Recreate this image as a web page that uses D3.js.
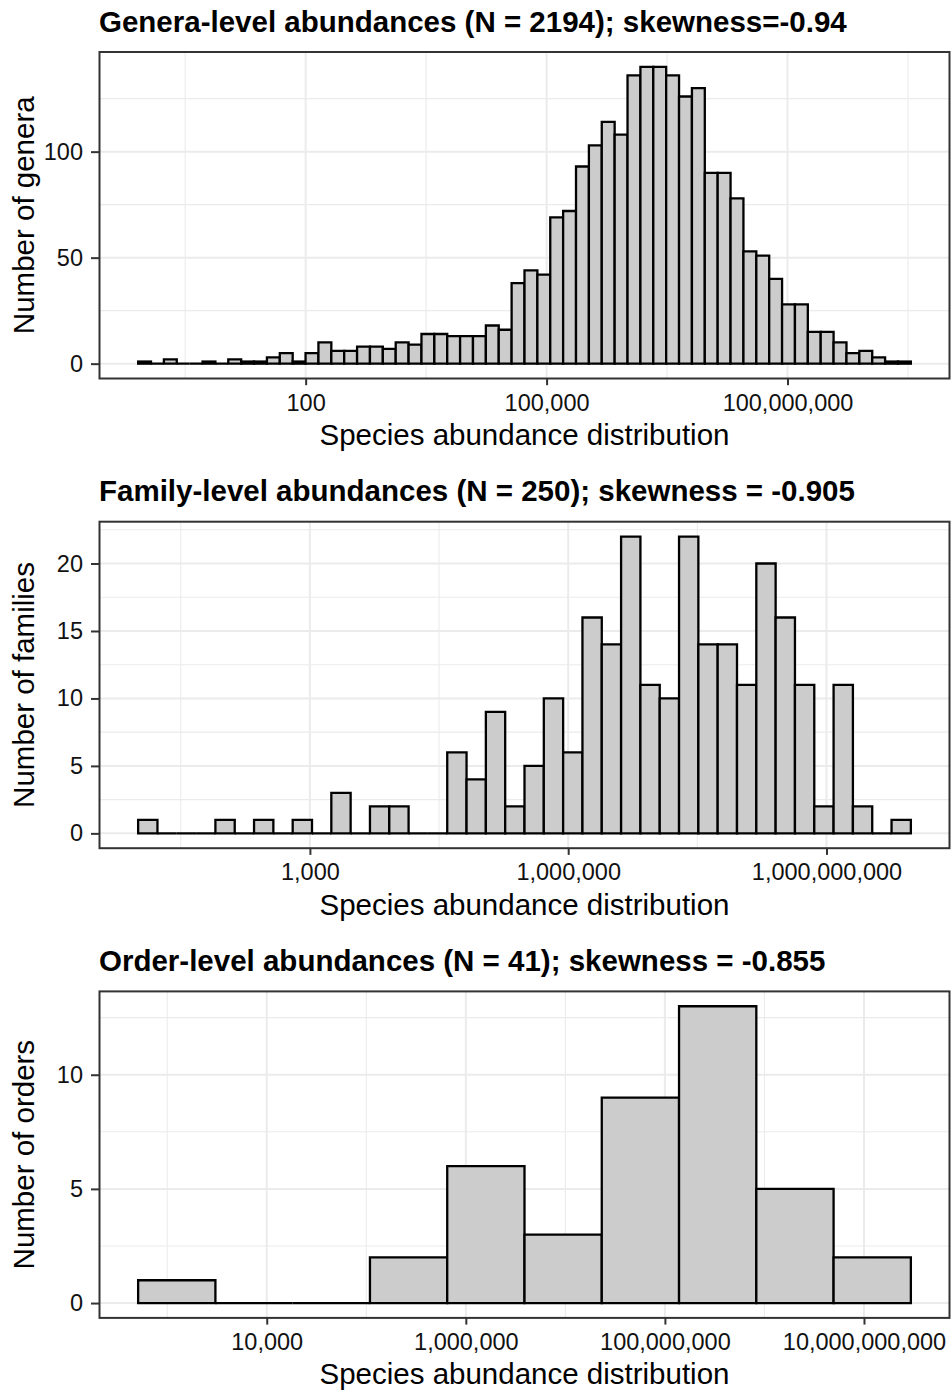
<!DOCTYPE html>
<html>
<head>
<meta charset="utf-8">
<title>Species abundance distributions</title>
<script src="https://cdn.jsdelivr.net/npm/d3@7"></script>
<style>
  body { margin: 0; background: #fff; }
  svg { display: block; font-family: "Liberation Sans", Arial, sans-serif; }
  .gridMajor { stroke: #ebebeb; stroke-width: 2; }
  .gridMinor { stroke: #ebebeb; stroke-width: 1.1; }
  .bar { fill: #cccccc; stroke: #000; stroke-width: 2.3; }
  .border { fill: none; stroke: #333; stroke-width: 2; }
  .plotTitle { font-weight: bold; font-size: 29.5px; fill: #000; }
  .axisTitle { font-size: 29.5px; fill: #000; }
</style>
</head>
<body>
<svg id="chart" width="952" height="1394"></svg>
<script>
  // counts per histogram bin (left to right)
  const generaCounts = [1, 0, 2, 0, 0, 1, 0, 2, 1, 1, 3, 5, 1, 5, 10, 6, 6, 8, 8, 7,
    10, 9, 14, 14, 13, 13, 13, 18, 16, 38, 44, 42, 69, 72, 93, 103, 114, 108, 136, 140,
    140, 136, 126, 130, 90, 90, 78, 53, 51, 40, 28, 28, 15, 15, 10, 5, 6, 3, 1, 1];
  const familyCounts = [1, 0, 0, 0, 1, 0, 1, 0, 1, 0, 3, 0, 2, 2, 0, 0, 6, 4, 9, 2,
    5, 10, 6, 16, 14, 22, 11, 10, 22, 14, 14, 11, 20, 16, 11, 2, 11, 2, 0, 1];
  const orderCounts = [1, 0, 0, 2, 6, 3, 9, 13, 5, 2];

  // log10 extent covered by the bins
  const generaLogRange = [-0.086, 9.536];
  const familyLogRange = [1.005, 9.98];
  const orderLogRange = [2.708, 10.471];

  // x breaks (abundance) and minor grid exponents
  const generaTicks = [1e2, 1e5, 1e8];
  const generaMinorExp = [0.5, 3.5, 6.5, 9.5];
  const familyTicks = [1e3, 1e6, 1e9];
  const familyMinorExp = [1.5, 4.5, 7.5];
  const orderTicks = [1e4, 1e6, 1e8, 1e10];
  const orderMinorExp = [3, 5, 7, 9];

  // y breaks
  const generaYTicks = [0, 50, 100];
  const generaYMinor = [25, 75, 125];
  const familyYTicks = [0, 5, 10, 15, 20];
  const familyYMinor = [2.5, 7.5, 12.5, 17.5, 22.5];
  const orderYTicks = [0, 5, 10];
  const orderYMinor = [2.5, 7.5, 12.5];

  const panels = [
    { title: "Genera-level abundances (N = 2194); skewness=-0.94", yTitle: "Number of genera",
      counts: generaCounts, logRange: generaLogRange, xTicks: generaTicks, xMinorExp: generaMinorExp,
      yTicks: generaYTicks, yMinor: generaYMinor },
    { title: "Family-level abundances (N = 250); skewness = -0.905", yTitle: "Number of families",
      counts: familyCounts, logRange: familyLogRange, xTicks: familyTicks, xMinorExp: familyMinorExp,
      yTicks: familyYTicks, yMinor: familyYMinor },
    { title: "Order-level abundances (N = 41); skewness = -0.855", yTitle: "Number of orders",
      counts: orderCounts, logRange: orderLogRange, xTicks: orderTicks, xMinorExp: orderMinorExp,
      yTicks: orderYTicks, yMinor: orderYMinor }
  ];

  // layout
  const panelTops = [52, 521.7, 991.4];
  const panelH = 326.5;
  const left = 99.5;
  const right = 949.5;

  const svg = d3.select("#chart");

  panels.forEach(function(p, k) {
    drawPanel(p, panelTops[k]);
  });

  function drawPanel(p, top) {
    const bottom = top + panelH;
    const g = svg.append("g");

    const lo = p.logRange[0], hi = p.logRange[1];
    const pad = (hi - lo) * 0.05;
    const step = (hi - lo) / p.counts.length;
    const bins = p.counts.map(function(c, i) {
      return { x0: Math.pow(10, lo + i * step), x1: Math.pow(10, lo + (i + 1) * step), n: c };
    });

    const x = d3.scaleLog()
      .domain([Math.pow(10, lo - pad), Math.pow(10, hi + pad)])
      .range([left, right]);
    const yMax = d3.max(p.counts);
    const y = d3.scaleLinear()
      .domain([-yMax * 0.05, yMax * 1.05])
      .range([bottom, top]);

    // grid
    g.selectAll(".vMinor")
      .data(p.xMinorExp.map(function(e) { return Math.pow(10, e); })
        .filter(function(v) { return x(v) > left && x(v) < right; }))
      .enter().append("line")
        .attr("class", "gridMinor")
        .attr("x1", function(d) { return x(d); })
        .attr("x2", function(d) { return x(d); })
        .attr("y1", top).attr("y2", bottom);
    g.selectAll(".hMinor")
      .data(p.yMinor.filter(function(v) { return y(v) > top; }))
      .enter().append("line")
        .attr("class", "gridMinor")
        .attr("x1", left).attr("x2", right)
        .attr("y1", function(d) { return y(d); })
        .attr("y2", function(d) { return y(d); });
    g.selectAll(".vMajor")
      .data(p.xTicks)
      .enter().append("line")
        .attr("class", "gridMajor")
        .attr("x1", function(d) { return x(d); })
        .attr("x2", function(d) { return x(d); })
        .attr("y1", top).attr("y2", bottom);
    g.selectAll(".hMajor")
      .data(p.yTicks)
      .enter().append("line")
        .attr("class", "gridMajor")
        .attr("x1", left).attr("x2", right)
        .attr("y1", function(d) { return y(d); })
        .attr("y2", function(d) { return y(d); });

    // bars (paths so that empty bins still show their outline)
    g.selectAll(".bar")
      .data(bins)
      .enter().append("path")
        .attr("class", "bar")
        .attr("d", function(d) {
          return "M" + x(d.x0) + "," + y(0) + "V" + y(d.n) + "H" + x(d.x1) + "V" + y(0) + "Z";
        });

    g.append("rect")
      .attr("class", "border")
      .attr("x", left).attr("y", top)
      .attr("width", right - left).attr("height", panelH);

    // axes
    const xAxis = d3.axisBottom(x)
      .tickValues(p.xTicks)
      .tickFormat(d3.format(","))
      .tickSize(6.7)
      .tickPadding(8.8);
    const xg = g.append("g")
      .attr("transform", "translate(0," + bottom + ")")
      .call(xAxis);
    styleAxis(xg);

    const yAxis = d3.axisLeft(y)
      .tickValues(p.yTicks)
      .tickSize(8.5)
      .tickPadding(8);
    const yg = g.append("g")
      .attr("transform", "translate(" + left + ",0)")
      .call(yAxis);
    styleAxis(yg);

    // titles
    g.append("text")
      .attr("class", "plotTitle")
      .attr("x", 99)
      .attr("y", top - 20.5)
      .text(p.title);
    g.append("text")
      .attr("class", "axisTitle")
      .attr("x", (left + right) / 2)
      .attr("y", bottom + 66.5)
      .attr("text-anchor", "middle")
      .text("Species abundance distribution");
    g.append("text")
      .attr("class", "axisTitle")
      .attr("transform", "translate(33.5," + (top + panelH / 2) + ") rotate(-90)")
      .attr("text-anchor", "middle")
      .text(p.yTitle);
  }

  function styleAxis(sel) {
    sel.attr("font-size", 23.5).attr("font-family", null);
    sel.select(".domain").remove();
    sel.selectAll(".tick line").attr("stroke", "#333").attr("stroke-width", 2);
    sel.selectAll(".tick text").attr("fill", "#111");
  }
</script>
</body>
</html>
